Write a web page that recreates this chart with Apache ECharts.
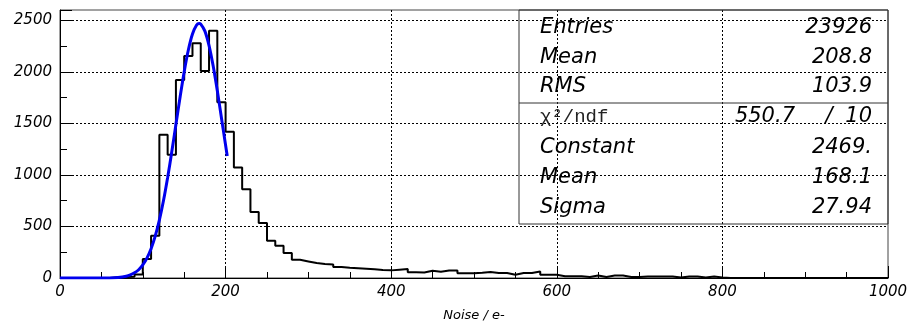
<!DOCTYPE html>
<html>
<head>
<meta charset="utf-8">
<script src="https://cdn.jsdelivr.net/npm/echarts@6/dist/echarts.min.js"></script>
<style>
  html, body { margin: 0; padding: 0; background: #fff; }
  #chart { width: 911px; height: 323px; }
</style>
</head>
<body>
<div id="chart"></div>
<script>
// ---- data ----
const BIN_START = 0;
const BIN_WIDTH = 10;
// histogram counts, 100 bins from 0 to 1000
const counts = [
  0, 0, 0, 0, 0, 0, 8, 10, 12, 35,
  184, 410, 1389, 1195, 1921, 2154, 2277, 2009, 2399, 1705,
  1420, 1072, 862, 640, 533, 361, 313, 242, 177, 161,
  145, 136, 132, 107, 100, 95, 90, 85, 78, 74,
  81, 87, 56, 54, 71, 60, 73, 72, 46, 45,
  50, 58, 48, 48, 32, 48, 48, 64, 32, 32,
  16, 16, 16, 10, 24, 10, 24, 24, 10, 10,
  15, 15, 15, 15, 4, 15, 15, 4, 14, 4,
  0, 0, 0, 0, 0, 0, 0, 0, 0, 0,
  0, 0, 0, 0, 0, 0, 0, 0, 0, 0
];
// fitted gaussian curve
const fitX = [0, 40, 60, 70, 80, 85, 90, 95, 100, 105, 110, 115, 120, 125, 130, 135, 140, 145, 150, 155, 160, 165, 168, 170, 175, 180, 185, 190, 195, 200, 202];
const fitY = [0, 0, 1, 5, 17, 30, 50, 80, 127, 193, 284, 406, 561, 751, 975, 1224, 1489, 1754, 2002, 2212, 2367, 2454, 2469, 2463, 2395, 2255, 2056, 1816, 1553, 1287, 1183];
const xTicks = [0, 200, 400, 600, 800, 1000];
const yTicks = [0, 500, 1000, 1500, 2000, 2500];
const statsLabels = ['Entries', 'Mean', 'RMS'];
const statsValues = ['23926', '208.8', '103.9'];
const fitLabels = ['Constant', 'Mean', 'Sigma'];
const fitValues = ['2469.', '168.1', '27.94'];
const chi2 = '550.7';
const ndf = '10';
const xTitle = 'Noise / e-';

// ---- build ----
const histData = counts.map((c, i) => [BIN_START + i * BIN_WIDTH, c]);
histData.push([BIN_START + counts.length * BIN_WIDTH, counts[counts.length - 1]]);
const fitData = fitX.map((x, i) => [x, fitY[i]]);

const chart = echarts.init(document.getElementById('chart'), null, { renderer: 'canvas' });

const FONT = '"DejaVu Sans", sans-serif';
const boxL = 519, boxT = 10, boxR = 888, boxB = 224, sep = 103;
const labelX = 540, valueX = 872;
const rowsTop = [28, 58, 87];
const rowsBot = [148, 178, 208];
const graphics = [
  { type: 'rect', shape: { x: boxL, y: boxT, width: boxR - boxL, height: boxB - boxT },
    style: { fill: 'none', stroke: '#333', lineWidth: 1 }, z: 100 },
  { type: 'line', shape: { x1: boxL, y1: sep, x2: boxR, y2: sep },
    style: { stroke: '#333', lineWidth: 1 }, z: 100 }
];
const textStyle = (txt, x, y, align, extra) => Object.assign({
  type: 'text', z: 101,
  style: Object.assign({ text: txt, x: x, y: y, align: align, verticalAlign: 'middle',
    font: 'italic 21px ' + FONT, fill: '#000' }, extra || {})
});
statsLabels.forEach((l, i) => {
  graphics.push(textStyle(l, labelX, rowsTop[i], 'left'));
  graphics.push(textStyle(statsValues[i], valueX, rowsTop[i], 'right'));
});
fitLabels.forEach((l, i) => {
  graphics.push(textStyle(l, labelX, rowsBot[i], 'left'));
  graphics.push(textStyle(fitValues[i], valueX, rowsBot[i], 'right'));
});
graphics.push(textStyle('χ²/ndf', labelX, 117, 'left', { font: '19px "Liberation Mono", monospace', fill: '#222' }));
graphics.push(textStyle(chi2, 795, 117, 'right'));
graphics.push(textStyle('/', 829, 117, 'center'));
graphics.push(textStyle(ndf, valueX, 117, 'right'));

const option = {
  animation: false,
  backgroundColor: '#fff',
  grid: { left: 60, right: 23, top: 10, bottom: 45, show: true, borderColor: '#444', borderWidth: 1,
    containLabel: false, outerBoundsMode: 'none' },
  xAxis: {
    type: 'value', min: 0, max: 1000, interval: 200,
    name: xTitle, nameLocation: 'middle', nameGap: 31,
    nameTextStyle: { fontFamily: FONT, fontStyle: 'italic', fontSize: 13, color: '#000' },
    axisLine: { show: true, onZero: false, lineStyle: { color: '#000', width: 1 } },
    axisTick: { show: true, inside: true, length: 12, lineStyle: { color: '#000' } },
    minorTick: { show: true, splitNumber: 4, length: 6, lineStyle: { color: '#000' } },
    axisLabel: { fontFamily: FONT, fontStyle: 'italic', fontSize: 15, color: '#000', margin: 7,
      formatter: v => (xTicks.indexOf(v) >= 0 ? String(v) : '') },
    splitLine: { show: true, showMinLine: false, showMaxLine: false, lineStyle: { color: '#000', type: [2, 2], width: 1 } }
  },
  yAxis: {
    type: 'value', min: 0, max: 2600, interval: 500,
    axisLine: { show: true, lineStyle: { color: '#000', width: 1 } },
    axisTick: { show: true, inside: true, length: 12, lineStyle: { color: '#000' } },
    minorTick: { show: true, splitNumber: 2, length: 7, lineStyle: { color: '#000' } },
    axisLabel: { fontFamily: FONT, fontStyle: 'italic', fontSize: 15, color: '#000', margin: 8,
      showMaxLabel: false,
      formatter: v => (yTicks.indexOf(v) >= 0 ? String(v) : '') },
    splitLine: { show: true, showMinLine: false, showMaxLine: false, lineStyle: { color: '#000', type: [2, 2], width: 1 } }
  },
  series: [
    { type: 'line', data: histData, step: 'end', showSymbol: false, symbol: 'none',
      lineStyle: { color: '#000', width: 2 }, z: 3 },
    { type: 'line', data: fitData, smooth: 0.3, showSymbol: false, symbol: 'none',
      lineStyle: { color: '#0000ee', width: 3 }, z: 4 }
  ],
  graphic: graphics
};
chart.setOption(option);
</script>
</body>
</html>
